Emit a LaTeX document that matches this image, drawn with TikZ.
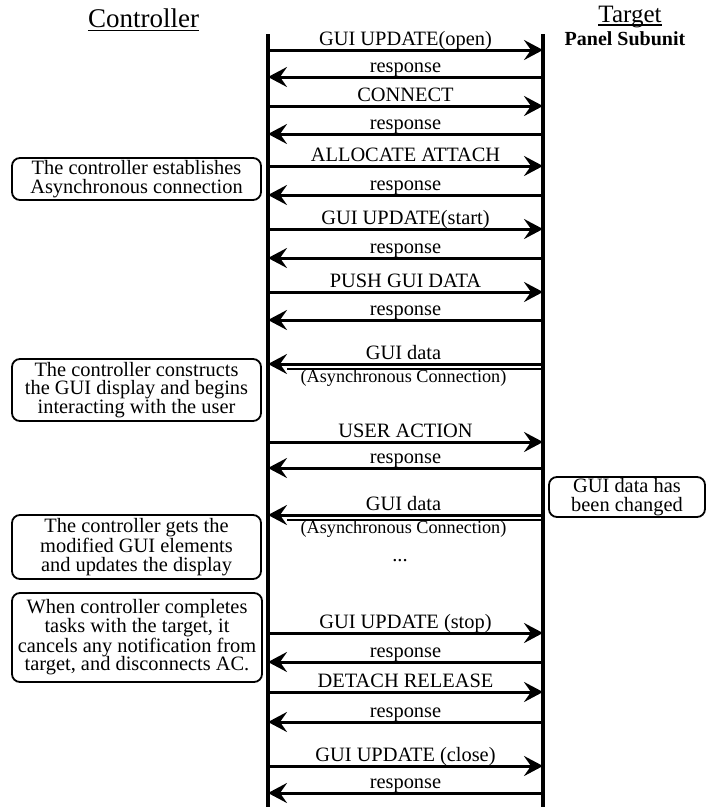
\documentclass[tikz,border=0pt]{standalone}
\usepackage{fontspec}
\setmainfont{Liberation Serif}
\usetikzlibrary{arrows.meta}

\begin{document}
\begin{tikzpicture}[x=1pt,y=-1pt,
  lifeline/.style={line width=3.5pt},
  msg/.style={line width=3pt,-{Stealth[length=19pt,width=20pt,inset=7pt]}},
  msglabel/.style={anchor=base,inner sep=0pt,font=\fontsize{20.4}{22}\selectfont},
  asynclabel/.style={anchor=base,inner sep=0pt,font=\fontsize{18.2}{20}\selectfont},
  note/.style={draw,line width=1.8pt,rounded corners=8pt,align=center,inner sep=0pt,
    font=\fontsize{20.4}{18.6}\selectfont},
  header/.style={anchor=base,inner sep=0pt},
  underbar/.style={line width=1.6pt}]

\useasboundingbox (0,0) rectangle (709,807);

% column headers
\node[header,font=\fontsize{27}{30}\selectfont] (hc) at (143.5,27) {Controller};
\draw[underbar] ([yshift=-3.5pt]hc.base west) -- ([yshift=-3.5pt]hc.base east);
\node[header,font=\fontsize{25}{28}\selectfont] (ht) at (630,22) {Target};
\draw[underbar] ([yshift=-3pt]ht.base west) -- ([yshift=-3pt]ht.base east);
\node[header,font=\fontsize{20}{22}\selectfont\bfseries] (hp) at (625,45) {Panel Subunit};

% lifelines
\coordinate (ctop) at (268,34);
\coordinate (cbot) at (268,807);
\coordinate (ttop) at (543,34);
\coordinate (tbot) at (543,807);
\draw[lifeline] (ctop) -- (cbot);
\draw[lifeline] (ttop) -- (tbot);

% commands from the controller to the target
\foreach \n/\y/\t in {1/50/GUI UPDATE(open),3/106/CONNECT,5/166/ALLOCATE ATTACH,
    7/229/GUI UPDATE(start),9/292/PUSH GUI DATA,12/442/USER ACTION,
    16/633/GUI UPDATE (stop),18/692/DETACH RELEASE,20/766/GUI UPDATE (close)}{
  \coordinate (c\n) at (268,\y);
  \coordinate (t\n) at (543,\y);
  \draw[msg] (c\n) -- (t\n);
  \node[msglabel] (l\n) at (405.5,\y-5) {\t};
}

% responses from the target
\foreach \n/\y in {2/77,4/134,6/195,8/258,10/320,13/468,17/662,19/722,21/793}{
  \coordinate (c\n) at (268,\y);
  \coordinate (t\n) at (543,\y);
  \draw[msg] (t\n) -- (c\n);
  \node[msglabel] (l\n) at (405.5,\y-5) {response};
}

% GUI data pushed over the asynchronous connection
\foreach \n/\y in {11/364,14/515}{
  \coordinate (c\n) at (268,\y);
  \coordinate (t\n) at (543,\y);
  \coordinate (cb\n) at (287,\y+5);
  \coordinate (tb\n) at (543,\y+5);
  \draw[msg] (t\n) -- (c\n);
  \draw[line width=2pt] (tb\n) -- (cb\n);
  \node[msglabel] (l\n) at (403.5,\y-5) {GUI data};
  \node[asynclabel] (a\n) at (403.5,\y+18) {(Asynchronous Connection)};
}

\node[msglabel] (dots) at (400,561) {...};

% notes
\node[note,minimum width=249pt,minimum height=42pt] (n1) at (136.5,179)
  {The controller establishes\\Asynchronous connection};
\node[note,minimum width=249pt,minimum height=62pt] (n2) at (136.5,390)
  {The controller constructs\\the GUI display and begins\\interacting with the user};
\node[note,minimum width=249pt,minimum height=64pt] (n3) at (136.5,547)
  {The controller gets the\\modified GUI elements\\and updates the display};
\node[note,minimum width=250pt,minimum height=89pt] (n4) at (137,637.5)
  {When controller completes\\tasks with the target, it\\cancels any notification from\\target, and disconnects AC.};
\node[note,minimum width=156pt,minimum height=40pt] (n5) at (627,497)
  {GUI data has\\been changed};

\end{tikzpicture}
\end{document}
